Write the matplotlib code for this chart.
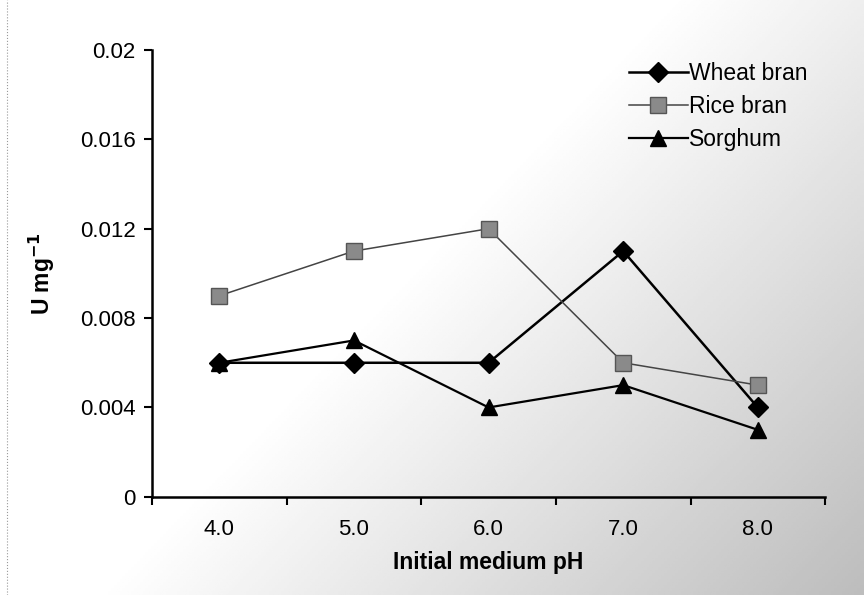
import numpy as np
import matplotlib.pyplot as plt

ph_labels = ["4.0", "5.0", "6.0", "7.0", "8.0"]
wheat_bran = [0.006, 0.006, 0.006, 0.011, 0.004]
rice_bran = [0.009, 0.011, 0.012, 0.006, 0.005]
sorghum = [0.006, 0.007, 0.004, 0.005, 0.003]

plt.rcParams['font.family'] = ['Liberation Sans', 'DejaVu Sans']

fig = plt.figure(figsize=(8.64, 5.95), dpi=100)

# scanned-paper look: white fading to grey towards lower right
bg = fig.add_axes([0, 0, 1, 1], zorder=-10)
gx, gy = np.meshgrid(np.linspace(0, 1, 300), np.linspace(1, 0, 200))
shade = np.clip((gx * 0.9 + (1 - gy) * 0.6 - 0.7) / 0.8, 0, 1)
bg.imshow(1 - 0.26 * shade, cmap='gray', vmin=0, vmax=1, aspect='auto',
          extent=[0, 1, 0, 1])
bg.plot([0.008, 0.008], [0, 1], color='#999999', lw=0.8, ls=':')
bg.set_xlim(0, 1)
bg.set_ylim(0, 1)
bg.axis('off')

ax = fig.add_axes([0.176, 0.165, 0.779, 0.751])
ax.patch.set_alpha(0)
x = np.arange(1, len(ph_labels) + 1)

ax.plot(x, wheat_bran, color='black', lw=1.8, marker='D', ms=10,
        label='Wheat bran')
ax.plot(x, rice_bran, color='#444444', lw=1.1, marker='s', ms=11,
        mfc='#8a8a8a', mec='#555555', label='Rice bran')
ax.plot(x, sorghum, color='black', lw=1.6, marker='^', ms=12,
        label='Sorghum')

ax.set_xlim(0.5, 5.5)
ax.set_ylim(0, 0.02)
ax.set_yticks([0, 0.004, 0.008, 0.012, 0.016, 0.02])
ax.set_yticklabels(['0', '0.004', '0.008', '0.012', '0.016', '0.02'])
ax.set_xticks(x)
ax.set_xticklabels(ph_labels)
ax.set_xticks(np.arange(0.5, 6.0, 1.0), minor=True)
ax.tick_params(axis='x', which='major', length=0, pad=16, labelsize=16)
ax.tick_params(axis='x', which='minor', length=6, width=1.5, direction='out')
ax.tick_params(axis='y', length=6, width=1.5, direction='out', labelsize=16,
               pad=6)

for s in ['top', 'right']:
    ax.spines[s].set_visible(False)
for s in ['left', 'bottom']:
    ax.spines[s].set_linewidth(1.8)

ax.set_xlabel('Initial medium pH', fontsize=16.5, fontweight='bold',
              labelpad=8)
ax.set_ylabel('U mg$^{\\mathbf{-1}}$', fontsize=16.5, fontweight='bold',
              labelpad=16)

ax.legend(loc='upper right', bbox_to_anchor=(1.005, 1.02), frameon=False,
          fontsize=16.5, handlelength=2.6, handletextpad=0.05,
          labelspacing=0.45)

fig.savefig('out.png', dpi=100)
